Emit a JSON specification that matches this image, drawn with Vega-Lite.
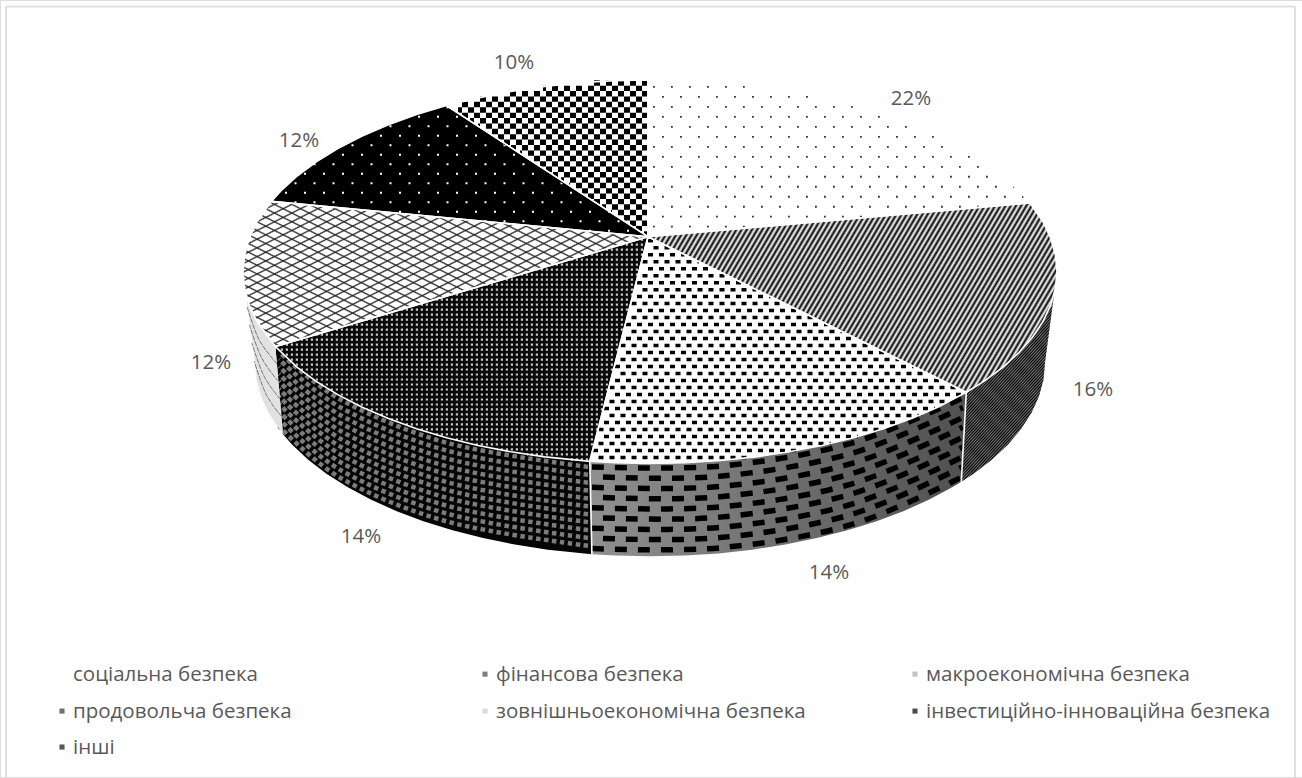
{
"$schema":"https://vega.github.io/schema/vega-lite/v6.json",
"width":1302,"height":778,"padding":0,"background":"#ffffff",
"autosize":{"type":"fit","contains":"padding"},
"params":[
{"name":"stripes","value":[{"offset":0,"color":"#000"},{"offset":0.005,"color":"#fff"},{"offset":0.01,"color":"#000"},{"offset":0.015,"color":"#fff"},{"offset":0.02,"color":"#000"},{"offset":0.025,"color":"#fff"},{"offset":0.03,"color":"#000"},{"offset":0.035,"color":"#fff"},{"offset":0.04,"color":"#000"},{"offset":0.045,"color":"#fff"},{"offset":0.05,"color":"#000"},{"offset":0.055,"color":"#fff"},{"offset":0.06,"color":"#000"},{"offset":0.065,"color":"#fff"},{"offset":0.07,"color":"#000"},{"offset":0.075,"color":"#fff"},{"offset":0.08,"color":"#000"},{"offset":0.085,"color":"#fff"},{"offset":0.09,"color":"#000"},{"offset":0.095,"color":"#fff"},{"offset":0.1,"color":"#000"},{"offset":0.105,"color":"#fff"},{"offset":0.11,"color":"#000"},{"offset":0.115,"color":"#fff"},{"offset":0.12,"color":"#000"},{"offset":0.125,"color":"#fff"},{"offset":0.13,"color":"#000"},{"offset":0.135,"color":"#fff"},{"offset":0.14,"color":"#000"},{"offset":0.145,"color":"#fff"},{"offset":0.15,"color":"#000"},{"offset":0.155,"color":"#fff"},{"offset":0.16,"color":"#000"},{"offset":0.165,"color":"#fff"},{"offset":0.17,"color":"#000"},{"offset":0.175,"color":"#fff"},{"offset":0.18,"color":"#000"},{"offset":0.185,"color":"#fff"},{"offset":0.19,"color":"#000"},{"offset":0.195,"color":"#fff"},{"offset":0.2,"color":"#000"},{"offset":0.205,"color":"#fff"},{"offset":0.21,"color":"#000"},{"offset":0.215,"color":"#fff"},{"offset":0.22,"color":"#000"},{"offset":0.225,"color":"#fff"},{"offset":0.23,"color":"#000"},{"offset":0.235,"color":"#fff"},{"offset":0.24,"color":"#000"},{"offset":0.245,"color":"#fff"},{"offset":0.25,"color":"#000"},{"offset":0.255,"color":"#fff"},{"offset":0.26,"color":"#000"},{"offset":0.265,"color":"#fff"},{"offset":0.27,"color":"#000"},{"offset":0.275,"color":"#fff"},{"offset":0.28,"color":"#000"},{"offset":0.285,"color":"#fff"},{"offset":0.29,"color":"#000"},{"offset":0.295,"color":"#fff"},{"offset":0.3,"color":"#000"},{"offset":0.305,"color":"#fff"},{"offset":0.31,"color":"#000"},{"offset":0.315,"color":"#fff"},{"offset":0.32,"color":"#000"},{"offset":0.325,"color":"#fff"},{"offset":0.33,"color":"#000"},{"offset":0.335,"color":"#fff"},{"offset":0.34,"color":"#000"},{"offset":0.345,"color":"#fff"},{"offset":0.35,"color":"#000"},{"offset":0.355,"color":"#fff"},{"offset":0.36,"color":"#000"},{"offset":0.365,"color":"#fff"},{"offset":0.37,"color":"#000"},{"offset":0.375,"color":"#fff"},{"offset":0.38,"color":"#000"},{"offset":0.385,"color":"#fff"},{"offset":0.39,"color":"#000"},{"offset":0.395,"color":"#fff"},{"offset":0.4,"color":"#000"},{"offset":0.405,"color":"#fff"},{"offset":0.41,"color":"#000"},{"offset":0.415,"color":"#fff"},{"offset":0.42,"color":"#000"},{"offset":0.425,"color":"#fff"},{"offset":0.43,"color":"#000"},{"offset":0.435,"color":"#fff"},{"offset":0.44,"color":"#000"},{"offset":0.445,"color":"#fff"},{"offset":0.45,"color":"#000"},{"offset":0.455,"color":"#fff"},{"offset":0.46,"color":"#000"},{"offset":0.465,"color":"#fff"},{"offset":0.47,"color":"#000"},{"offset":0.475,"color":"#fff"},{"offset":0.48,"color":"#000"},{"offset":0.485,"color":"#fff"},{"offset":0.49,"color":"#000"},{"offset":0.495,"color":"#fff"},{"offset":0.5,"color":"#000"},{"offset":0.505,"color":"#fff"},{"offset":0.51,"color":"#000"},{"offset":0.515,"color":"#fff"},{"offset":0.52,"color":"#000"},{"offset":0.525,"color":"#fff"},{"offset":0.53,"color":"#000"},{"offset":0.535,"color":"#fff"},{"offset":0.54,"color":"#000"},{"offset":0.545,"color":"#fff"},{"offset":0.55,"color":"#000"},{"offset":0.555,"color":"#fff"},{"offset":0.56,"color":"#000"},{"offset":0.565,"color":"#fff"},{"offset":0.57,"color":"#000"},{"offset":0.575,"color":"#fff"},{"offset":0.58,"color":"#000"},{"offset":0.585,"color":"#fff"},{"offset":0.59,"color":"#000"},{"offset":0.595,"color":"#fff"},{"offset":0.6,"color":"#000"},{"offset":0.605,"color":"#fff"},{"offset":0.61,"color":"#000"},{"offset":0.615,"color":"#fff"},{"offset":0.62,"color":"#000"},{"offset":0.625,"color":"#fff"},{"offset":0.63,"color":"#000"},{"offset":0.635,"color":"#fff"},{"offset":0.64,"color":"#000"},{"offset":0.645,"color":"#fff"},{"offset":0.65,"color":"#000"},{"offset":0.655,"color":"#fff"},{"offset":0.66,"color":"#000"},{"offset":0.665,"color":"#fff"},{"offset":0.67,"color":"#000"},{"offset":0.675,"color":"#fff"},{"offset":0.68,"color":"#000"},{"offset":0.685,"color":"#fff"},{"offset":0.69,"color":"#000"},{"offset":0.695,"color":"#fff"},{"offset":0.7,"color":"#000"},{"offset":0.705,"color":"#fff"},{"offset":0.71,"color":"#000"},{"offset":0.715,"color":"#fff"},{"offset":0.72,"color":"#000"},{"offset":0.725,"color":"#fff"},{"offset":0.73,"color":"#000"},{"offset":0.735,"color":"#fff"},{"offset":0.74,"color":"#000"},{"offset":0.745,"color":"#fff"},{"offset":0.75,"color":"#000"},{"offset":0.755,"color":"#fff"},{"offset":0.76,"color":"#000"},{"offset":0.765,"color":"#fff"},{"offset":0.77,"color":"#000"},{"offset":0.775,"color":"#fff"},{"offset":0.78,"color":"#000"},{"offset":0.785,"color":"#fff"},{"offset":0.79,"color":"#000"},{"offset":0.795,"color":"#fff"},{"offset":0.8,"color":"#000"},{"offset":0.805,"color":"#fff"},{"offset":0.81,"color":"#000"},{"offset":0.815,"color":"#fff"},{"offset":0.82,"color":"#000"},{"offset":0.825,"color":"#fff"},{"offset":0.83,"color":"#000"},{"offset":0.835,"color":"#fff"},{"offset":0.84,"color":"#000"},{"offset":0.845,"color":"#fff"},{"offset":0.85,"color":"#000"},{"offset":0.855,"color":"#fff"},{"offset":0.86,"color":"#000"},{"offset":0.865,"color":"#fff"},{"offset":0.87,"color":"#000"},{"offset":0.875,"color":"#fff"},{"offset":0.88,"color":"#000"},{"offset":0.885,"color":"#fff"},{"offset":0.89,"color":"#000"},{"offset":0.895,"color":"#fff"},{"offset":0.9,"color":"#000"},{"offset":0.905,"color":"#fff"},{"offset":0.91,"color":"#000"},{"offset":0.915,"color":"#fff"},{"offset":0.92,"color":"#000"},{"offset":0.925,"color":"#fff"},{"offset":0.93,"color":"#000"},{"offset":0.935,"color":"#fff"},{"offset":0.94,"color":"#000"},{"offset":0.945,"color":"#fff"},{"offset":0.95,"color":"#000"},{"offset":0.955,"color":"#fff"},{"offset":0.96,"color":"#000"},{"offset":0.965,"color":"#fff"},{"offset":0.97,"color":"#000"},{"offset":0.975,"color":"#fff"},{"offset":0.98,"color":"#000"},{"offset":0.985,"color":"#fff"},{"offset":0.99,"color":"#000"},{"offset":0.995,"color":"#fff"},{"offset":1,"color":"#000"}]},
{"name":"hatch","value":[{"offset":0,"color":"#0000"},{"offset":0.004,"color":"#333"},{"offset":0.008,"color":"#0000"},{"offset":0.025,"color":"#0000"},{"offset":0.029,"color":"#333"},{"offset":0.033,"color":"#0000"},{"offset":0.05,"color":"#0000"},{"offset":0.054,"color":"#333"},{"offset":0.058,"color":"#0000"},{"offset":0.075,"color":"#0000"},{"offset":0.079,"color":"#333"},{"offset":0.083,"color":"#0000"},{"offset":0.1,"color":"#0000"},{"offset":0.104,"color":"#333"},{"offset":0.108,"color":"#0000"},{"offset":0.125,"color":"#0000"},{"offset":0.129,"color":"#333"},{"offset":0.133,"color":"#0000"},{"offset":0.15,"color":"#0000"},{"offset":0.154,"color":"#333"},{"offset":0.158,"color":"#0000"},{"offset":0.175,"color":"#0000"},{"offset":0.179,"color":"#333"},{"offset":0.183,"color":"#0000"},{"offset":0.2,"color":"#0000"},{"offset":0.204,"color":"#333"},{"offset":0.208,"color":"#0000"},{"offset":0.225,"color":"#0000"},{"offset":0.229,"color":"#333"},{"offset":0.233,"color":"#0000"},{"offset":0.25,"color":"#0000"},{"offset":0.254,"color":"#333"},{"offset":0.258,"color":"#0000"},{"offset":0.275,"color":"#0000"},{"offset":0.279,"color":"#333"},{"offset":0.283,"color":"#0000"},{"offset":0.3,"color":"#0000"},{"offset":0.304,"color":"#333"},{"offset":0.308,"color":"#0000"},{"offset":0.325,"color":"#0000"},{"offset":0.329,"color":"#333"},{"offset":0.333,"color":"#0000"},{"offset":0.35,"color":"#0000"},{"offset":0.354,"color":"#333"},{"offset":0.358,"color":"#0000"},{"offset":0.375,"color":"#0000"},{"offset":0.379,"color":"#333"},{"offset":0.383,"color":"#0000"},{"offset":0.4,"color":"#0000"},{"offset":0.404,"color":"#333"},{"offset":0.408,"color":"#0000"},{"offset":0.425,"color":"#0000"},{"offset":0.429,"color":"#333"},{"offset":0.433,"color":"#0000"},{"offset":0.45,"color":"#0000"},{"offset":0.454,"color":"#333"},{"offset":0.458,"color":"#0000"},{"offset":0.475,"color":"#0000"},{"offset":0.479,"color":"#333"},{"offset":0.483,"color":"#0000"},{"offset":0.5,"color":"#0000"},{"offset":0.504,"color":"#333"},{"offset":0.508,"color":"#0000"},{"offset":0.525,"color":"#0000"},{"offset":0.529,"color":"#333"},{"offset":0.533,"color":"#0000"},{"offset":0.55,"color":"#0000"},{"offset":0.554,"color":"#333"},{"offset":0.558,"color":"#0000"},{"offset":0.575,"color":"#0000"},{"offset":0.579,"color":"#333"},{"offset":0.583,"color":"#0000"},{"offset":0.6,"color":"#0000"},{"offset":0.604,"color":"#333"},{"offset":0.608,"color":"#0000"},{"offset":0.625,"color":"#0000"},{"offset":0.629,"color":"#333"},{"offset":0.633,"color":"#0000"},{"offset":0.65,"color":"#0000"},{"offset":0.654,"color":"#333"},{"offset":0.658,"color":"#0000"},{"offset":0.675,"color":"#0000"},{"offset":0.679,"color":"#333"},{"offset":0.683,"color":"#0000"},{"offset":0.7,"color":"#0000"},{"offset":0.704,"color":"#333"},{"offset":0.708,"color":"#0000"},{"offset":0.725,"color":"#0000"},{"offset":0.729,"color":"#333"},{"offset":0.733,"color":"#0000"},{"offset":0.75,"color":"#0000"},{"offset":0.754,"color":"#333"},{"offset":0.758,"color":"#0000"},{"offset":0.775,"color":"#0000"},{"offset":0.779,"color":"#333"},{"offset":0.783,"color":"#0000"},{"offset":0.8,"color":"#0000"},{"offset":0.804,"color":"#333"},{"offset":0.808,"color":"#0000"},{"offset":0.825,"color":"#0000"},{"offset":0.829,"color":"#333"},{"offset":0.833,"color":"#0000"},{"offset":0.85,"color":"#0000"},{"offset":0.854,"color":"#333"},{"offset":0.858,"color":"#0000"},{"offset":0.875,"color":"#0000"},{"offset":0.879,"color":"#333"},{"offset":0.883,"color":"#0000"},{"offset":0.9,"color":"#0000"},{"offset":0.904,"color":"#333"},{"offset":0.908,"color":"#0000"},{"offset":0.925,"color":"#0000"},{"offset":0.929,"color":"#333"},{"offset":0.933,"color":"#0000"},{"offset":0.95,"color":"#0000"},{"offset":0.954,"color":"#333"},{"offset":0.958,"color":"#0000"},{"offset":0.975,"color":"#0000"},{"offset":0.979,"color":"#333"},{"offset":0.983,"color":"#0000"}]}
],
"datasets":{
"outline":[
{"s":"t1","i":0,"x":0,"y":0},{"s":"t1","i":1,"x":0,"y":157},{"s":"t1","i":2,"x":37.5,"y":156.3},{"s":"t1","i":3,"x":72.7,"y":154.1},{"s":"t1","i":4,"x":107.3,"y":150.5},{"s":"t1","i":5,"x":141.2,"y":145.4},{"s":"t1","i":6,"x":174,"y":139},{"s":"t1","i":7,"x":205.5,"y":131.3},{"s":"t1","i":8,"x":235.5,"y":122.3},{"s":"t1","i":9,"x":263.6,"y":112.1},{"s":"t1","i":10,"x":289.8,"y":100.8},{"s":"t1","i":11,"x":313.8,"y":88.4},{"s":"t1","i":12,"x":335.4,"y":75.1},{"s":"t1","i":13,"x":354.5,"y":61},{"s":"t1","i":14,"x":370.9,"y":46.1},{"s":"t1","i":15,"x":382,"y":33.8},{"s":"t1","i":16,"x":0,"y":0},
{"s":"t2","i":0,"x":0,"y":0},{"s":"t2","i":1,"x":382,"y":33.8},{"s":"t2","i":2,"x":395.1,"y":14.7},{"s":"t2","i":3,"x":402.8,"y":-1.7},{"s":"t2","i":4,"x":407.4,"y":-18.3},{"s":"t2","i":5,"x":409,"y":-35},{"s":"t2","i":6,"x":407.4,"y":-51.7},{"s":"t2","i":7,"x":402.8,"y":-68.3},{"s":"t2","i":8,"x":395.1,"y":-84.7},{"s":"t2","i":9,"x":384.5,"y":-100.7},{"s":"t2","i":10,"x":370.9,"y":-116.1},{"s":"t2","i":11,"x":354.5,"y":-131},{"s":"t2","i":12,"x":335.4,"y":-145.1},{"s":"t2","i":13,"x":318.3,"y":-155.8},{"s":"t2","i":14,"x":0,"y":0},
{"s":"t3","i":0,"x":0,"y":0},{"s":"t3","i":1,"x":318.3,"y":-155.8},{"s":"t3","i":2,"x":289.8,"y":-170.8},{"s":"t3","i":3,"x":263.6,"y":-182.1},{"s":"t3","i":4,"x":235.5,"y":-192.3},{"s":"t3","i":5,"x":205.5,"y":-201.3},{"s":"t3","i":6,"x":174,"y":-209},{"s":"t3","i":7,"x":141.2,"y":-215.4},{"s":"t3","i":8,"x":107.3,"y":-220.5},{"s":"t3","i":9,"x":72.7,"y":-224.1},{"s":"t3","i":10,"x":37.5,"y":-226.3},{"s":"t3","i":11,"x":2,"y":-227},{"s":"t3","i":12,"x":-33.5,"y":-226.3},{"s":"t3","i":13,"x":-58.2,"y":-224.9},{"s":"t3","i":14,"x":0,"y":0},
{"s":"t4","i":0,"x":0,"y":0},{"s":"t4","i":1,"x":-58.2,"y":-224.9},{"s":"t4","i":2,"x":-103.3,"y":-220.5},{"s":"t4","i":3,"x":-137.2,"y":-215.4},{"s":"t4","i":4,"x":-170,"y":-209},{"s":"t4","i":5,"x":-201.5,"y":-201.3},{"s":"t4","i":6,"x":-231.5,"y":-192.3},{"s":"t4","i":7,"x":-259.6,"y":-182.1},{"s":"t4","i":8,"x":-285.8,"y":-170.8},{"s":"t4","i":9,"x":-309.8,"y":-158.4},{"s":"t4","i":10,"x":-331.4,"y":-145.1},{"s":"t4","i":11,"x":-350.5,"y":-131},{"s":"t4","i":12,"x":-372.6,"y":-110},{"s":"t4","i":13,"x":0,"y":0},
{"s":"t5","i":0,"x":0,"y":0},{"s":"t5","i":1,"x":-372.6,"y":-110},{"s":"t5","i":2,"x":-391.1,"y":-84.7},{"s":"t5","i":3,"x":-398.8,"y":-68.3},{"s":"t5","i":4,"x":-403.4,"y":-51.7},{"s":"t5","i":5,"x":-405,"y":-35},{"s":"t5","i":6,"x":-403.4,"y":-18.3},{"s":"t5","i":7,"x":-398.8,"y":-1.7},{"s":"t5","i":8,"x":-391.1,"y":14.7},{"s":"t5","i":9,"x":-376.7,"y":35.4},{"s":"t5","i":10,"x":0,"y":0},
{"s":"t6","i":0,"x":0,"y":0},{"s":"t6","i":1,"x":-376.7,"y":35.4},{"s":"t6","i":2,"x":-366.9,"y":46.1},{"s":"t6","i":3,"x":-350.5,"y":61},{"s":"t6","i":4,"x":-331.4,"y":75.1},{"s":"t6","i":5,"x":-309.8,"y":88.4},{"s":"t6","i":6,"x":-285.8,"y":100.8},{"s":"t6","i":7,"x":-259.6,"y":112.1},{"s":"t6","i":8,"x":-231.5,"y":122.3},{"s":"t6","i":9,"x":-201.5,"y":131.3},{"s":"t6","i":10,"x":0,"y":0},
{"s":"t7","i":0,"x":0,"y":0},{"s":"t7","i":1,"x":-201.5,"y":131.3},{"s":"t7","i":2,"x":-170,"y":139},{"s":"t7","i":3,"x":-137.2,"y":145.4},{"s":"t7","i":4,"x":-103.3,"y":150.5},{"s":"t7","i":5,"x":-68.7,"y":154.1},{"s":"t7","i":6,"x":-33.5,"y":156.3},{"s":"t7","i":7,"x":0,"y":157},{"s":"t7","i":8,"x":0,"y":0},
{"s":"w2","i":0,"x":409,"y":-35},{"s":"w2","i":1,"x":407.4,"y":-51.7},{"s":"w2","i":2,"x":402.8,"y":-68.3},{"s":"w2","i":3,"x":395.1,"y":-84.7},{"s":"w2","i":4,"x":384.5,"y":-100.7},{"s":"w2","i":5,"x":370.9,"y":-116.1},{"s":"w2","i":6,"x":354.5,"y":-131},{"s":"w2","i":7,"x":335.4,"y":-145.1},{"s":"w2","i":8,"x":318.3,"y":-155.8},{"s":"w2","i":9,"x":313.3,"y":-245.4},{"s":"w2","i":10,"x":325.6,"y":-237.3},{"s":"w2","i":11,"x":344.1,"y":-223},{"s":"w2","i":12,"x":360,"y":-208},{"s":"w2","i":13,"x":373.2,"y":-192.4},{"s":"w2","i":14,"x":383.5,"y":-176.2},{"s":"w2","i":15,"x":391,"y":-159.7},{"s":"w2","i":16,"x":395.5,"y":-142.9},{"s":"w2","i":17,"x":397,"y":-126},
{"s":"w3","i":0,"x":318.3,"y":-155.8},{"s":"w3","i":1,"x":289.8,"y":-170.8},{"s":"w3","i":2,"x":263.6,"y":-182.1},{"s":"w3","i":3,"x":235.5,"y":-192.3},{"s":"w3","i":4,"x":205.5,"y":-201.3},{"s":"w3","i":5,"x":174,"y":-209},{"s":"w3","i":6,"x":141.2,"y":-215.4},{"s":"w3","i":7,"x":107.3,"y":-220.5},{"s":"w3","i":8,"x":72.7,"y":-224.1},{"s":"w3","i":9,"x":37.5,"y":-226.3},{"s":"w3","i":10,"x":2,"y":-227},{"s":"w3","i":11,"x":-33.5,"y":-226.3},{"s":"w3","i":12,"x":-58.2,"y":-224.9},{"s":"w3","i":13,"x":-56.1,"y":-317.9},{"s":"w3","i":14,"x":-32.4,"y":-319.3},{"s":"w3","i":15,"x":2,"y":-320},{"s":"w3","i":16,"x":36.4,"y":-319.3},{"s":"w3","i":17,"x":70.6,"y":-317.1},{"s":"w3","i":18,"x":104.2,"y":-313.4},{"s":"w3","i":19,"x":137.1,"y":-308.3},{"s":"w3","i":20,"x":168.9,"y":-301.8},{"s":"w3","i":21,"x":199.5,"y":-294},{"s":"w3","i":22,"x":228.6,"y":-284.9},{"s":"w3","i":23,"x":255.9,"y":-274.6},{"s":"w3","i":24,"x":281.3,"y":-263.2},{"s":"w3","i":25,"x":304.6,"y":-250.7},{"s":"w3","i":26,"x":313.3,"y":-245.4},
{"s":"w4","i":0,"x":-58.2,"y":-224.9},{"s":"w4","i":1,"x":-103.3,"y":-220.5},{"s":"w4","i":2,"x":-137.2,"y":-215.4},{"s":"w4","i":3,"x":-170,"y":-209},{"s":"w4","i":4,"x":-201.5,"y":-201.3},{"s":"w4","i":5,"x":-231.5,"y":-192.3},{"s":"w4","i":6,"x":-259.6,"y":-182.1},{"s":"w4","i":7,"x":-285.8,"y":-170.8},{"s":"w4","i":8,"x":-309.8,"y":-158.4},{"s":"w4","i":9,"x":-331.4,"y":-145.1},{"s":"w4","i":10,"x":-350.5,"y":-131},{"s":"w4","i":11,"x":-372.6,"y":-110},{"s":"w4","i":12,"x":-365,"y":-197.7},{"s":"w4","i":13,"x":-356,"y":-208},{"s":"w4","i":14,"x":-340.1,"y":-223},{"s":"w4","i":15,"x":-321.6,"y":-237.3},{"s":"w4","i":16,"x":-300.6,"y":-250.7},{"s":"w4","i":17,"x":-277.3,"y":-263.2},{"s":"w4","i":18,"x":-251.9,"y":-274.6},{"s":"w4","i":19,"x":-224.6,"y":-284.9},{"s":"w4","i":20,"x":-195.5,"y":-294},{"s":"w4","i":21,"x":-164.9,"y":-301.8},{"s":"w4","i":22,"x":-133.1,"y":-308.3},{"s":"w4","i":23,"x":-100.2,"y":-313.4},{"s":"w4","i":24,"x":-56.1,"y":-317.9},
{"s":"w5","i":0,"x":-372.6,"y":-110},{"s":"w5","i":1,"x":-391.1,"y":-84.7},{"s":"w5","i":2,"x":-398.8,"y":-68.3},{"s":"w5","i":3,"x":-403.4,"y":-51.7},{"s":"w5","i":4,"x":-405,"y":-35},{"s":"w5","i":5,"x":-393,"y":-126},{"s":"w5","i":6,"x":-391.5,"y":-142.9},{"s":"w5","i":7,"x":-387,"y":-159.7},{"s":"w5","i":8,"x":-379.5,"y":-176.2},{"s":"w5","i":9,"x":-365,"y":-197.7},
{"s":"e1","i":0,"x":318.3,"y":-155.8},{"s":"e1","i":1,"x":313.3,"y":-245.4},
{"s":"e2","i":0,"x":-58.2,"y":-224.9},{"s":"e2","i":1,"x":-56.1,"y":-317.9}
],
"rows":[
{"p":"a","y":150,"x":5,"x2":111},{"p":"a","y":140,"x":14,"x2":169},{"p":"a","y":130,"x":5,"x2":210},{"p":"a","y":120,"x":14,"x2":242},{"p":"a","y":110,"x":5,"x2":269},{"p":"a","y":100,"x":14,"x2":291},{"p":"a","y":90,"x":5,"x2":311},{"p":"a","y":80,"x":14,"x2":328},{"p":"a","y":70,"x":5,"x2":343},{"p":"a","y":60,"x":14,"x2":356},{"p":"a","y":50,"x":5,"x2":367},{"p":"a","y":40,"x":14,"x2":377},{"p":"a","y":30,"x":5,"x2":339},{"p":"a","y":20,"x":14,"x2":226},{"p":"a","y":10,"x":5,"x2":113},
{"p":"c","y":-4,"x":0,"x2":8.2},{"p":"c","y":-11,"x":5.5,"x2":22.5},{"p":"c","y":-18,"x":0,"x2":36.8},{"p":"c","y":-25,"x":-5.5,"x2":51},{"p":"c","y":-32,"x":0,"x2":65.4},{"p":"c","y":-39,"x":-5.5,"x2":79.7},{"p":"c","y":-46,"x":-11,"x2":94},{"p":"c","y":-53,"x":-5.5,"x2":108.3},{"p":"c","y":-60,"x":-11,"x2":122.6},{"p":"c","y":-67,"x":-16.5,"x2":136.9},{"p":"c","y":-74,"x":-11,"x2":151.2},{"p":"c","y":-81,"x":-16.5,"x2":165.5},{"p":"c","y":-88,"x":-22,"x2":179.8},{"p":"c","y":-95,"x":-16.5,"x2":194.1},{"p":"c","y":-102,"x":-22,"x2":208.4},{"p":"c","y":-109,"x":-27.5,"x2":222.7},{"p":"c","y":-116,"x":-22,"x2":237},{"p":"c","y":-123,"x":-27.5,"x2":251.3},{"p":"c","y":-130,"x":-33,"x2":265.6},{"p":"c","y":-137,"x":-27.5,"x2":279.9},{"p":"c","y":-144,"x":-33,"x2":294.2},{"p":"c","y":-151,"x":-38.5,"x2":308.5},{"p":"c","y":-158,"x":-33,"x2":314.5},{"p":"c","y":-165,"x":-38.5,"x2":301.5},{"p":"c","y":-172,"x":-44,"x2":287},{"p":"c","y":-179,"x":-38.5,"x2":271},{"p":"c","y":-186,"x":-44,"x2":253},{"p":"c","y":-193,"x":-49.5,"x2":233},{"p":"c","y":-200,"x":-44,"x2":210},{"p":"c","y":-207,"x":-49.5,"x2":183},{"p":"c","y":-214,"x":-55,"x2":149},{"p":"c","y":-221,"x":-49.5,"x2":103},
{"p":"d","y":-3,"x":-5,"x2":-10},{"p":"d","y":-8,"x":-5,"x2":-27},{"p":"d","y":-13,"x":-5,"x2":-44},{"p":"d","y":-18,"x":-5,"x2":-61},{"p":"d","y":-23,"x":-10,"x2":-78},{"p":"d","y":-28,"x":-10,"x2":-95},{"p":"d","y":-33,"x":-10,"x2":-112},{"p":"d","y":-38,"x":-10,"x2":-129},{"p":"d","y":-43,"x":-15,"x2":-146},{"p":"d","y":-48,"x":-15,"x2":-163},{"p":"d","y":-53,"x":-15,"x2":-180},{"p":"d","y":-58,"x":-15,"x2":-196},{"p":"d","y":-63,"x":-20,"x2":-213},{"p":"d","y":-68,"x":-20,"x2":-230},{"p":"d","y":-73,"x":-20,"x2":-247},{"p":"d","y":-78,"x":-25,"x2":-264},{"p":"d","y":-83,"x":-25,"x2":-281},{"p":"d","y":-88,"x":-25,"x2":-298},{"p":"d","y":-93,"x":-25,"x2":-315},{"p":"d","y":-98,"x":-30,"x2":-332},{"p":"d","y":-103,"x":-30,"x2":-349},{"p":"d","y":-108,"x":-30,"x2":-366},{"p":"d","y":-113,"x":-30,"x2":-370},{"p":"d","y":-118,"x":-35,"x2":-365},{"p":"d","y":-123,"x":-35,"x2":-360},{"p":"d","y":-128,"x":-35,"x2":-354},{"p":"d","y":-133,"x":-35,"x2":-348},{"p":"d","y":-138,"x":-40,"x2":-341},{"p":"d","y":-143,"x":-40,"x2":-334},{"p":"d","y":-148,"x":-40,"x2":-327},{"p":"d","y":-153,"x":-40,"x2":-319},{"p":"d","y":-158,"x":-45,"x2":-310},{"p":"d","y":-163,"x":-45,"x2":-301},{"p":"d","y":-168,"x":-45,"x2":-291},{"p":"d","y":-173,"x":-45,"x2":-281},{"p":"d","y":-178,"x":-50,"x2":-270},{"p":"d","y":-183,"x":-50,"x2":-257},{"p":"d","y":-188,"x":-50,"x2":-244},{"p":"d","y":-193,"x":-50,"x2":-229},{"p":"d","y":-198,"x":-55,"x2":-213},{"p":"d","y":-203,"x":-55,"x2":-195},{"p":"d","y":-208,"x":-55,"x2":-175},{"p":"d","y":-213,"x":-60,"x2":-151},{"p":"d","y":-218,"x":-60,"x2":-121},{"p":"d","y":-223,"x":-60,"x2":-80},
{"p":"f","y":6,"x":-19,"x2":-64},{"p":"f","y":15.5,"x":-28.5,"x2":-165},{"p":"f","y":25,"x":-38,"x2":-266},{"p":"f","y":34.5,"x":-66.5,"x2":-367},{"p":"f","y":44,"x":-76,"x2":-369},{"p":"f","y":53.5,"x":-85.5,"x2":-359},{"p":"f","y":63,"x":-114,"x2":-348},{"p":"f","y":72.5,"x":-123.5,"x2":-335},{"p":"f","y":82,"x":-133,"x2":-321},{"p":"f","y":91.5,"x":-142.5,"x2":-304},{"p":"f","y":101,"x":-171,"x2":-285},{"p":"f","y":110.5,"x":-180.5,"x2":-263},{"p":"f","y":120,"x":-190,"x2":-238},{"p":"f","y":129.5,"x":-199.5,"x2":-208},
{"p":"g","y":2.7,"x":0,"x2":-4},{"p":"g","y":8.1,"x":-6,"x2":-12},{"p":"g","y":13.5,"x":0,"x2":-21},{"p":"g","y":18.9,"x":-6,"x2":-29},{"p":"g","y":24.3,"x":0,"x2":-37},{"p":"g","y":29.7,"x":-6,"x2":-46},{"p":"g","y":35.1,"x":0,"x2":-54},{"p":"g","y":40.5,"x":-6,"x2":-62},{"p":"g","y":45.9,"x":0,"x2":-70},{"p":"g","y":51.3,"x":-6,"x2":-79},{"p":"g","y":56.7,"x":0,"x2":-87},{"p":"g","y":62.1,"x":-6,"x2":-95},{"p":"g","y":67.5,"x":0,"x2":-104},{"p":"g","y":72.9,"x":-6,"x2":-112},{"p":"g","y":78.3,"x":0,"x2":-120},{"p":"g","y":83.7,"x":-6,"x2":-128},{"p":"g","y":89.1,"x":0,"x2":-137},{"p":"g","y":94.5,"x":-6,"x2":-145},{"p":"g","y":99.9,"x":0,"x2":-153},{"p":"g","y":105.3,"x":-6,"x2":-162},{"p":"g","y":110.7,"x":0,"x2":-170},{"p":"g","y":116.1,"x":-6,"x2":-178},{"p":"g","y":121.5,"x":0,"x2":-187},{"p":"g","y":126.9,"x":-6,"x2":-190},{"p":"g","y":132.3,"x":0,"x2":-192},{"p":"g","y":137.7,"x":-6,"x2":-170},{"p":"g","y":143.1,"x":0,"x2":-140},{"p":"g","y":148.5,"x":-6,"x2":-105},{"p":"g","y":153.9,"x":0,"x2":-55}
],
"wallRows":[
{"p":"w3","r":1,"i":0,"x":-56,"y":-230.5},{"p":"w3","r":1,"i":1,"x":72,"y":-229.7},{"p":"w3","r":1,"i":2,"x":203,"y":-206.9},{"p":"w3","r":1,"i":3,"x":315,"y":-161.2},
{"p":"w3","r":2,"i":0,"x":-45,"y":-240.7},{"p":"w3","r":2,"i":1,"x":72,"y":-239.9},{"p":"w3","r":2,"i":2,"x":203,"y":-217.1},{"p":"w3","r":2,"i":3,"x":315,"y":-171},
{"p":"w3","r":3,"i":0,"x":-56,"y":-250.9},{"p":"w3","r":3,"i":1,"x":72,"y":-250.1},{"p":"w3","r":3,"i":2,"x":203,"y":-227.3},{"p":"w3","r":3,"i":3,"x":315,"y":-180.9},
{"p":"w3","r":4,"i":0,"x":-45,"y":-261.2},{"p":"w3","r":4,"i":1,"x":72,"y":-260.4},{"p":"w3","r":4,"i":2,"x":203,"y":-237.5},{"p":"w3","r":4,"i":3,"x":315,"y":-190.7},
{"p":"w3","r":5,"i":0,"x":-56,"y":-271.4},{"p":"w3","r":5,"i":1,"x":72,"y":-270.6},{"p":"w3","r":5,"i":2,"x":203,"y":-247.7},{"p":"w3","r":5,"i":3,"x":315,"y":-200.6},
{"p":"w3","r":6,"i":0,"x":-45,"y":-281.6},{"p":"w3","r":6,"i":1,"x":72,"y":-280.8},{"p":"w3","r":6,"i":2,"x":203,"y":-257.8},{"p":"w3","r":6,"i":3,"x":315,"y":-210.5},
{"p":"w3","r":7,"i":0,"x":-56,"y":-291.9},{"p":"w3","r":7,"i":1,"x":72,"y":-291.1},{"p":"w3","r":7,"i":2,"x":203,"y":-268},{"p":"w3","r":7,"i":3,"x":315,"y":-220.3},
{"p":"w3","r":8,"i":0,"x":-45,"y":-302.1},{"p":"w3","r":8,"i":1,"x":72,"y":-301.3},{"p":"w3","r":8,"i":2,"x":203,"y":-278.2},{"p":"w3","r":8,"i":3,"x":315,"y":-230.2},
{"p":"w3","r":9,"i":0,"x":-56,"y":-312.3},{"p":"w3","r":9,"i":1,"x":72,"y":-311.5},{"p":"w3","r":9,"i":2,"x":203,"y":-288.4},{"p":"w3","r":9,"i":3,"x":315,"y":-240},
{"p":"w4","r":11,"i":0,"x":-60,"y":-230.5},{"p":"w4","r":11,"i":1,"x":-199,"y":-206.9},{"p":"w4","r":11,"i":2,"x":-306,"y":-163.9},{"p":"w4","r":11,"i":3,"x":-369,"y":-115.3},
{"p":"w4","r":12,"i":0,"x":-60,"y":-238.4},{"p":"w4","r":12,"i":1,"x":-199,"y":-214.7},{"p":"w4","r":12,"i":2,"x":-306,"y":-171.8},{"p":"w4","r":12,"i":3,"x":-369,"y":-122.7},
{"p":"w4","r":13,"i":0,"x":-60,"y":-246.3},{"p":"w4","r":13,"i":1,"x":-199,"y":-222.6},{"p":"w4","r":13,"i":2,"x":-306,"y":-179.6},{"p":"w4","r":13,"i":3,"x":-369,"y":-130.2},
{"p":"w4","r":14,"i":0,"x":-60,"y":-254.2},{"p":"w4","r":14,"i":1,"x":-199,"y":-230.5},{"p":"w4","r":14,"i":2,"x":-306,"y":-187.5},{"p":"w4","r":14,"i":3,"x":-369,"y":-137.6},
{"p":"w4","r":15,"i":0,"x":-60,"y":-262.1},{"p":"w4","r":15,"i":1,"x":-199,"y":-238.4},{"p":"w4","r":15,"i":2,"x":-306,"y":-195.3},{"p":"w4","r":15,"i":3,"x":-369,"y":-145.1},
{"p":"w4","r":16,"i":0,"x":-60,"y":-270},{"p":"w4","r":16,"i":1,"x":-199,"y":-246.3},{"p":"w4","r":16,"i":2,"x":-306,"y":-203.2},{"p":"w4","r":16,"i":3,"x":-369,"y":-152.5},
{"p":"w4","r":17,"i":0,"x":-60,"y":-277.9},{"p":"w4","r":17,"i":1,"x":-199,"y":-254.1},{"p":"w4","r":17,"i":2,"x":-306,"y":-211},{"p":"w4","r":17,"i":3,"x":-369,"y":-160},
{"p":"w4","r":18,"i":0,"x":-60,"y":-285.8},{"p":"w4","r":18,"i":1,"x":-199,"y":-262},{"p":"w4","r":18,"i":2,"x":-306,"y":-218.9},{"p":"w4","r":18,"i":3,"x":-369,"y":-167.4},
{"p":"w4","r":19,"i":0,"x":-60,"y":-293.7},{"p":"w4","r":19,"i":1,"x":-199,"y":-269.9},{"p":"w4","r":19,"i":2,"x":-306,"y":-226.7},{"p":"w4","r":19,"i":3,"x":-369,"y":-174.9},
{"p":"w4","r":20,"i":0,"x":-60,"y":-301.6},{"p":"w4","r":20,"i":1,"x":-199,"y":-277.8},{"p":"w4","r":20,"i":2,"x":-306,"y":-234.5},{"p":"w4","r":20,"i":3,"x":-369,"y":-182.4},
{"p":"w4","r":21,"i":0,"x":-60,"y":-309.5},{"p":"w4","r":21,"i":1,"x":-199,"y":-285.7},{"p":"w4","r":21,"i":2,"x":-306,"y":-242.4},{"p":"w4","r":21,"i":3,"x":-369,"y":-189.8},
{"p":"w5","r":31,"i":0,"x":-371,"y":-127.5},{"p":"w5","r":31,"i":1,"x":-389,"y":-103},{"p":"w5","r":31,"i":2,"x":-401,"y":-70},
{"p":"w5","r":32,"i":0,"x":-369.6,"y":-145},{"p":"w5","r":32,"i":1,"x":-386.4,"y":-121.3},{"p":"w5","r":32,"i":2,"x":-398.6,"y":-88.2},
{"p":"w5","r":33,"i":0,"x":-368,"y":-162.6},{"p":"w5","r":33,"i":1,"x":-384,"y":-139.6},{"p":"w5","r":33,"i":2,"x":-396.2,"y":-106.4},
{"p":"w5","r":34,"i":0,"x":-366.5,"y":-180},{"p":"w5","r":34,"i":1,"x":-381.8,"y":-158},{"p":"w5","r":34,"i":2,"x":-393.8,"y":-124.7}
],
"shares":[
{"name":"соціальна безпека","value":0.22,"x":263,"y":139},
{"name":"фінансова безпека","value":0.16,"x":445,"y":-152},
{"name":"макроекономічна безпека","value":0.14,"x":181,"y":-336},
{"name":"продовольча безпека","value":0.14,"x":-287,"y":-300},
{"name":"зовнішньоекономічна безпека","value":0.12,"x":-437,"y":-125},
{"name":"інвестиційно-інноваційна безпека","value":0.12,"x":-349,"y":97},
{"name":"інші","value":0.10,"x":-134,"y":175}
],
"legendRows":[
{"name":"соціальна безпека","x":-586,"y":-438},
{"name":"фінансова безпека","x":-163,"y":-438},
{"name":"макроекономічна безпека","x":267,"y":-438},
{"name":"продовольча безпека","x":-586,"y":-475},
{"name":"зовнішньоекономічна безпека","x":-163,"y":-475},
{"name":"інвестиційно-інноваційна безпека","x":267,"y":-475},
{"name":"інші","x":-586,"y":-511}
],
"frame":[
{"x":-642,"x2":-642,"y":230.5,"y2":-541},
{"x":647,"x2":647,"y":230.5,"y2":-541},
{"x":-642,"x2":647,"y":230.5,"y2":230.5}
]
},
"data":{"name":"outline"},
"encoding":{
"x":{"field":"x","type":"quantitative","scale":{"domain":[-648,654],"nice":false,"zero":false},"axis":null},
"y":{"field":"y","type":"quantitative","scale":{"domain":[-541,237],"nice":false,"zero":false},"axis":null}
},
"layer":[
{"data":{"name":"frame"},"mark":{"type":"rule","color":"#e0e0e0","strokeWidth":2},"encoding":{"x2":{"field":"x2"},"y2":{"field":"y2"}}},

{"transform":[{"filter":"datum.s=='w2'"}],"mark":{"type":"line","stroke":"transparent","fill":{"expr":"{gradient:'linear',x1:0,y1:0,x2:0.6,y2:1.2,stops:stripes}"}},"encoding":{"order":{"field":"i"}}},
{"transform":[{"filter":"datum.s=='w2'"}],"mark":{"type":"line","stroke":"transparent","fill":"#000","fillOpacity":0.55},"encoding":{"order":{"field":"i"}}},
{"transform":[{"filter":"datum.s=='w3'"}],"mark":{"type":"line","stroke":"transparent","fill":{"gradient":"linear","x1":0,"y1":0,"x2":1,"y2":0,"stops":[{"offset":0,"color":"#909090"},{"offset":1,"color":"#505050"}]}},"encoding":{"order":{"field":"i"}}},
{"data":{"name":"wallRows"},"transform":[{"filter":"datum.p=='w3'"}],"mark":{"type":"line","interpolate":"cardinal","color":"#000","strokeWidth":5.5,"strokeDash":[12,11]},"encoding":{"detail":{"field":"r"},"order":{"field":"i"}}},
{"transform":[{"filter":"datum.s=='w4'"}],"mark":{"type":"line","stroke":"transparent","fill":"#050505"},"encoding":{"order":{"field":"i"}}},
{"data":{"name":"wallRows"},"transform":[{"filter":"datum.p=='w4'"}],"mark":{"type":"line","interpolate":"cardinal","color":"#7c7c7c","strokeWidth":4.5,"strokeDash":[4.5,3.5]},"encoding":{"detail":{"field":"r"},"order":{"field":"i"}}},
{"transform":[{"filter":"datum.s=='w5'"}],"mark":{"type":"line","stroke":"transparent","fill":"#e2e2e2"},"encoding":{"order":{"field":"i"}}},
{"data":{"name":"wallRows"},"transform":[{"filter":"datum.p=='w5'"}],"mark":{"type":"line","interpolate":"cardinal","color":"#777","strokeWidth":1,"strokeDash":[5,1]},"encoding":{"detail":{"field":"r"},"order":{"field":"i"}}},

{"transform":[{"filter":"datum.s=='t1'||datum.s=='t3'||datum.s=='t5'||datum.s=='t7'"}],"mark":{"type":"line","stroke":"transparent","fill":"#fff"},"encoding":{"detail":{"field":"s"},"order":{"field":"i"}}},
{"transform":[{"filter":"datum.s=='t2'"}],"mark":{"type":"line","stroke":"transparent","fill":{"expr":"{gradient:'linear',x1:0,y1:0,x2:1.185,y2:0.323,stops:stripes}"}},"encoding":{"order":{"field":"i"}}},
{"transform":[{"filter":"datum.s=='t4'"}],"mark":{"type":"line","stroke":"transparent","fill":"#0a0a0a"},"encoding":{"order":{"field":"i"}}},
{"transform":[{"filter":"datum.s=='t5'"}],"mark":{"type":"line","stroke":"transparent","fill":{"expr":"{gradient:'linear',x1:0,y1:0,x2:1.134,y2:0.812,stops:hatch}"}},"encoding":{"order":{"field":"i"}}},
{"transform":[{"filter":"datum.s=='t5'"}],"mark":{"type":"line","stroke":"transparent","fill":{"expr":"{gradient:'linear',x1:0,y1:1,x2:1.134,y2:0.188,stops:hatch}"}},"encoding":{"order":{"field":"i"}}},
{"transform":[{"filter":"datum.s=='t6'"}],"mark":{"type":"line","stroke":"transparent","fill":"#000"},"encoding":{"order":{"field":"i"}}},

{"data":{"name":"rows"},"transform":[{"filter":"datum.p=='a'"}],"mark":{"type":"rule","color":"#333","strokeWidth":1.8,"strokeDash":[1.8,16.2]},"encoding":{"x2":{"field":"x2"}}},
{"data":{"name":"rows"},"transform":[{"filter":"datum.p=='c'"}],"mark":{"type":"rule","color":"#000","strokeWidth":3.5,"strokeDash":[5,6]},"encoding":{"x2":{"field":"x2"}}},
{"data":{"name":"rows"},"transform":[{"filter":"datum.p=='d'"}],"mark":{"type":"rule","color":"#c8c8c8","strokeWidth":2.2,"strokeDash":[2.2,2.8]},"encoding":{"x2":{"field":"x2"}}},
{"data":{"name":"rows"},"transform":[{"filter":"datum.p=='f'"}],"mark":{"type":"rule","color":"#fff","strokeWidth":2,"strokeDash":[2,17]},"encoding":{"x2":{"field":"x2"}}},
{"data":{"name":"rows"},"transform":[{"filter":"datum.p=='g'"}],"mark":{"type":"rule","color":"#000","strokeWidth":5.4,"strokeDash":[6,6]},"encoding":{"x2":{"field":"x2"}}},

{"transform":[{"filter":"datum.s[0]=='t'||datum.s[0]=='e'"}],"mark":{"type":"line","stroke":"#fff","strokeWidth":1.6},"encoding":{"detail":{"field":"s"},"order":{"field":"i"}}},

{"data":{"name":"shares"},"mark":{"type":"text","font":"Open Sans","fontSize":20.5,"color":"#595959","align":"center","baseline":"middle","dy":1},"encoding":{"text":{"field":"value","type":"quantitative","format":".0%"}}},
{"data":{"name":"legendRows"},"mark":{"type":"point","shape":"square","filled":true,"size":26},"encoding":{"color":{"field":"name","type":"nominal","legend":null,"scale":{"domain":["соціальна безпека","фінансова безпека","макроекономічна безпека","продовольча безпека","зовнішньоекономічна безпека","інвестиційно-інноваційна безпека","інші"],"range":["#ffffff","#444444","#aaaaaa","#333333","#cccccc","#000000","#111111"]}}}},
{"data":{"name":"legendRows"},"mark":{"type":"text","font":"Open Sans","fontSize":20.5,"color":"#595959","align":"left","baseline":"middle","dx":11,"dy":1},"encoding":{"text":{"field":"name"}}}
]
}
